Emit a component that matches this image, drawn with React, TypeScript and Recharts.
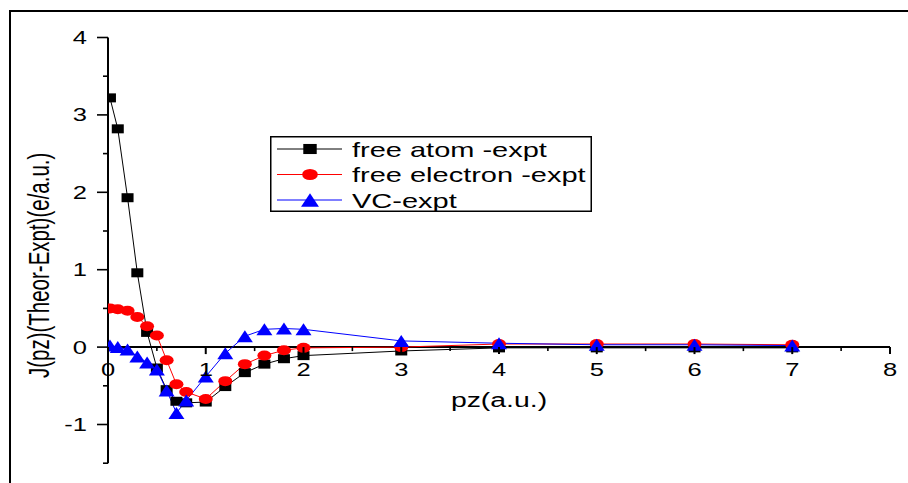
import React from 'react';
import { LineChart, Line, XAxis, YAxis, ReferenceLine, Legend } from 'recharts';

// ---- data ----
const pz = [0.02, 0.1, 0.2, 0.3, 0.4, 0.5, 0.6, 0.7, 0.8, 1.0, 1.2, 1.4, 1.6, 1.8, 2.0, 3, 4, 5, 6, 7];
const freeAtom = [3.22, 2.82, 1.93, 0.96, 0.19, -0.27, -0.55, -0.7, -0.72, -0.71, -0.51, -0.33, -0.22, -0.15, -0.11, -0.05, -0.01, -0.01, -0.01, -0.01];
const freeElectron = [0.5, 0.49, 0.47, 0.39, 0.27, 0.15, -0.17, -0.48, -0.58, -0.67, -0.44, -0.22, -0.11, -0.04, -0.01, 0.0, 0.04, 0.04, 0.04, 0.03];
const vc = [0.02, 0.0, -0.03, -0.12, -0.2, -0.29, -0.56, -0.85, -0.69, -0.38, -0.08, 0.14, 0.23, 0.24, 0.23, 0.08, 0.05, 0.03, 0.03, 0.02];

const xTicks = [0, 0.5, 1, 1.5, 2, 2.5, 3, 3.5, 4, 4.5, 5, 5.5, 6, 6.5, 7, 7.5, 8];
const yTicks = [-1.5, -1, -0.5, 0, 0.5, 1, 1.5, 2, 2.5, 3, 3.5, 4];
const xDomain = [0, 8];
const yDomain = [-1.5, 4];

const seriesNames = ['free atom -expt', 'free electron -expt', 'VC-expt'];
const seriesKeys = ['atom', 'electron', 'vc'];
const seriesColors = ['#000000', '#ff0000', '#0000ff'];
const seriesShapes = ['square', 'circle', 'triangle'];

const data = pz.map((x, i) => ({ x, atom: freeAtom[i], electron: freeElectron[i], vc: vc[i] }));

// ---- layout ----
const W = 908;
const H = 483;
const PLOT_LEFT = 108;
const PLOT_RIGHT = 890;
const PLOT_TOP = 37.5;
const PLOT_BOTTOM = 463.2;
const Y_AXIS_W = 100;
const X_AXIS_H = 10;
const SX = 1.42; // horizontal text stretch seen in the reference
const FONT = '"Liberation Sans", Arial, Helvetica, sans-serif';
const ZERO_Y = PLOT_TOP + ((yDomain[1] - 0) / (yDomain[1] - yDomain[0])) * (PLOT_BOTTOM - PLOT_TOP);

const Marker = ({ shape, cx, cy, color, k = 1 }: any) => {
  if (cx == null || cy == null) return null;
  if (shape === 'square') return <rect x={cx - 6 * k} y={cy - 4.5 * k} width={12 * k} height={9 * k} fill={color} />;
  if (shape === 'circle') return <ellipse cx={cx} cy={cy} rx={7 * k} ry={5 * k} fill={color} />;
  return <path d={`M${cx},${cy - 6 * k} L${cx + 8 * k},${cy + 6 * k} L${cx - 8 * k},${cy + 6 * k} Z`} fill={color} />;
};

const makeDot = (shape: string, color: string) => (p: any) => (
  <g key={`${shape}-${p.index}`}>
    <Marker shape={shape} cx={p.cx} cy={p.cy} color={color} />
  </g>
);

const YTick = (props: any) => {
  const { x, y, payload } = props;
  const v = payload.value;
  const major = Number.isInteger(v);
  return (
    <g>
      <line x1={x - (major ? 11 : 5)} x2={x} y1={y} y2={y} stroke="#000" strokeWidth={1.6} />
      {major && (
        <text
          transform={`translate(${x - 21},${y}) scale(${SX},1)`}
          textAnchor="end"
          dy="0.36em"
          fontSize={18}
          fontFamily={FONT}
          fill="#000"
        >
          {v}
        </text>
      )}
    </g>
  );
};

const XTick = (props: any) => {
  const { x, payload } = props;
  const v = payload.value;
  const major = Number.isInteger(v);
  return (
    <g>
      <line x1={x} x2={x} y1={ZERO_Y} y2={ZERO_Y + (major ? 7 : 4)} stroke="#000" strokeWidth={major ? 2 : 1.6} />
      {major && (
        <text
          transform={`translate(${x},${ZERO_Y + 22}) scale(${SX},1)`}
          textAnchor="middle"
          dy="0.36em"
          fontSize={18}
          fontFamily={FONT}
          fill="#000"
        >
          {v}
        </text>
      )}
    </g>
  );
};

const YLabel = (props: any) => {
  const vb = props.viewBox || { x: 8, y: PLOT_TOP, width: Y_AXIS_W, height: PLOT_BOTTOM - PLOT_TOP };
  const cx = vb.x + 31;
  const cy = vb.y + vb.height / 2 + 15;
  return (
    <text
      transform={`translate(${cx},${cy}) scale(${SX},1) rotate(-90)`}
      textAnchor="middle"
      dy="0.36em"
      fontSize={20.5}
      fontFamily={FONT}
      fill="#000"
    >
      J(pz)(Theor-Expt)(e/a.u.)
    </text>
  );
};

const XLabel = (props: any) => {
  const vb = props.viewBox || { x: PLOT_LEFT, width: PLOT_RIGHT - PLOT_LEFT };
  const cx = vb.x + vb.width / 2;
  return (
    <text
      transform={`translate(${cx},${ZERO_Y + 60}) scale(${SX},1)`}
      textAnchor="middle"
      fontSize={20}
      fontFamily={FONT}
      fill="#000"
    >
      pz(a.u.)
    </text>
  );
};

const LegendBox = (props: any) => {
  const payload = props.payload || [];
  const rows = seriesKeys.map((k, i) => {
    const entry = payload.find((e: any) => e.dataKey === k);
    return { key: k, name: entry ? entry.value : seriesNames[i], color: seriesColors[i], shape: seriesShapes[i] };
  });
  return (
    <svg width={322} height={76} style={{ display: 'block' }}>
      <rect x={0.75} y={0.75} width={320.5} height={74.5} fill="#fff" stroke="#000" strokeWidth={1.5} />
      {rows.map((r, i) => {
        const cy = 13 + i * 25.5;
        return (
          <g key={`leg-${r.key}`}>
            <line x1={7} x2={72} y1={cy} y2={cy} stroke={r.color} strokeWidth={1} />
            <Marker shape={r.shape} cx={40} cy={cy} color={r.color} k={1.12} />
            <text
              transform={`translate(82,${cy + 7.7}) scale(1.45,1)`}
              fontSize={20}
              fontFamily={FONT}
              fill="#000"
            >
              {r.name}
            </text>
          </g>
        );
      })}
    </svg>
  );
};

export default function App() {
  return (
    <div style={{ position: 'absolute', left: 0, top: 0, width: W, height: H, background: '#fff', overflow: 'hidden' }}>
      <div
        style={{
          position: 'absolute',
          left: 9,
          top: 10,
          width: W,
          height: H,
          borderTop: '2.5px solid #000',
          borderLeft: '2px solid #000',
        }}
      />
      <div style={{ position: 'absolute', left: 0, top: 0 }}>
        <LineChart
          width={W}
          height={H}
          data={data}
          margin={{ top: PLOT_TOP, right: W - PLOT_RIGHT, bottom: H - PLOT_BOTTOM - X_AXIS_H, left: PLOT_LEFT - Y_AXIS_W }}
        >
          <XAxis
            dataKey="x"
            type="number"
            domain={xDomain}
            ticks={xTicks}
            interval={0}
            height={X_AXIS_H}
            axisLine={false}
            tickLine={false}
            tick={<XTick />}
            label={{ content: <XLabel /> }}
            allowDataOverflow
          />
          <YAxis
            type="number"
            domain={yDomain}
            ticks={yTicks}
            interval={0}
            width={Y_AXIS_W}
            tickSize={0}
            tickMargin={0}
            tickLine={false}
            axisLine={{ stroke: '#000', strokeWidth: 2 }}
            tick={<YTick />}
            label={{ content: <YLabel /> }}
            allowDataOverflow
          />
          <ReferenceLine y={0} stroke="#000" strokeWidth={2} />
          {seriesKeys.map((k, i) => (
            <Line
              key={k}
              type="linear"
              dataKey={k}
              name={seriesNames[i]}
              stroke={seriesColors[i]}
              strokeWidth={1}
              dot={makeDot(seriesShapes[i], seriesColors[i])}
              activeDot={false}
              isAnimationActive={false}
              legendType="line"
            />
          ))}
          <Legend
            layout="horizontal"
            verticalAlign="middle"
            align="center"
            width={322}
            height={76}
            content={<LegendBox />}
            wrapperStyle={{ left: 270, top: 136, width: 322, height: 76, bottom: 'auto', right: 'auto' }}
          />
        </LineChart>
      </div>
    </div>
  );
}
